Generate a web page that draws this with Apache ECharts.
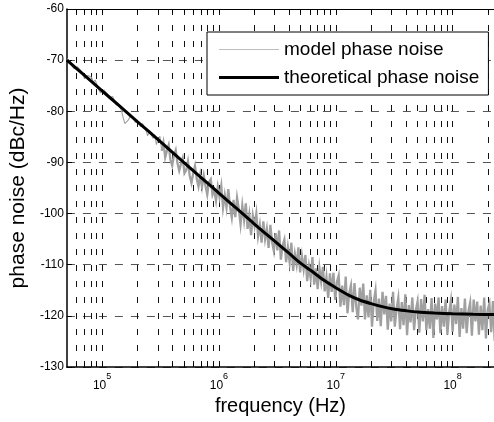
<!DOCTYPE html>
<html><head><meta charset="utf-8">
<script src="https://cdn.jsdelivr.net/npm/echarts@6/dist/echarts.min.js"></script>
<style>html,body{margin:0;padding:0;background:#fff}#c{width:494px;height:422px}</style>
</head><body><div id="c"></div>
<script>
// ---- data ----
const xMinHz = 5e4;
const xMaxHz = 2.26e8;
const xTickFreqs = [6e4,7e4,8e4,9e4,
  1e5,2e5,3e5,4e5,5e5,6e5,7e5,8e5,9e5,
  1e6,2e6,3e6,4e6,5e6,6e6,7e6,8e6,9e6,
  1e7,2e7,3e7,4e7,5e7,6e7,7e7,8e7,9e7,
  1e8,2e8];
const xLabelFreqs = [1e5,1e6,1e7,1e8];
const yMin = -130, yMax = -60, yStep = 10;

const theoFreq = [5e4,7e4,1e5,1.4e5,2e5,3e5,5e5,7e5,1e6,1.4e6,2e6,3e6,4e6,5e6,6e6,8e6,
  1e7,1.3e7,1.6e7,2e7,2.5e7,3.2e7,4e7,5e7,7e7,1e8,1.5e8,2.5e8];
const theoDb = [-70.0,-72.9,-76.0,-78.9,-82.0,-85.5,-90.0,-92.9,-96.0,-98.9,-102.0,-105.4,
  -107.8,-109.7,-111.0,-113.1,-114.5,-116.0,-116.9,-117.6,-118.2,-118.7,-119.0,-119.25,
  -119.45,-119.6,-119.7,-119.75];

// model (simulated) phase noise, sampled every 0.015 decade from 10^4.7 Hz
const modelStartExp = 4.7, modelStepExp = 0.015;
const modelDb = [
 -69.7,-69.7,-70.4,-71.2,-71.7,-71.5,-71.3,-71.3,-72.1,-72.9,
 -73.6,-73.5,-73.0,-72.7,-73.4,-74.3,-73.9,-74.7,-75.7,-76.4,
 -76.1,-75.8,-75.8,-76.6,-77.4,-77.1,-77.1,-77.9,-78.8,-78.4,
 -78.4,-79.8,-81.2,-82.4,-82.5,-81.7,-81.0,-80.7,-81.3,-82.2,
 -81.7,-81.5,-83.0,-82.4,-82.1,-83.7,-84.8,-83.8,-83.5,-85.3,
 -84.6,-86.5,-85.4,-84.9,-87.7,-86.1,-89.0,-87.7,-86.6,-89.5,
 -90.6,-88.6,-87.6,-90.1,-91.6,-90.3,-89.2,-92.1,-91.5,-89.8,
 -92.6,-94.0,-92.1,-90.7,-93.2,-94.7,-92.5,-94.8,-92.6,-94.6,
 -96.3,-93.8,-93.3,-96.3,-95.4,-97.5,-94.8,-96.8,-94.6,-98.9,
 -96.4,-98.8,-95.2,-98.7,-100.8,-97.3,-100.7,-96.9,-99.1,-102.1,
 -98.4,-101.3,-98.0,-103.0,-100.3,-104.2,-100.4,-102.5,-100.0,-104.4,
 -102.2,-105.7,-101.5,-105.0,-103.0,-106.7,-102.2,-105.6,-107.3,-103.8,
 -107.2,-103.3,-109.0,-106.3,-105.1,-109.5,-106.6,-109.5,-105.7,-111.2,
 -107.9,-110.0,-106.6,-111.5,-108.3,-110.9,-108.1,-113.2,-110.3,-112.7,
 -108.5,-113.9,-110.7,-114.8,-110.6,-113.3,-110.4,-115.2,-112.4,-116.5,
 -111.7,-115.3,-111.6,-116.9,-113.3,-112.1,-118.2,-114.1,-117.9,-112.3,
 -119.5,-115.5,-114.0,-119.3,-113.6,-118.2,-120.7,-114.5,-118.0,-113.7,
 -120.7,-116.0,-120.3,-114.9,-122.1,-117.2,-115.0,-121.0,-116.6,-122.0,
 -115.3,-119.7,-116.1,-122.7,-117.6,-121.1,-115.3,-122.1,-118.7,-116.5,
 -122.6,-117.3,-121.8,-115.8,-123.8,-117.9,-121.3,-116.4,-122.8,-118.9,
 -117.2,-123.3,-116.7,-121.1,-115.9,-122.8,-118.7,-122.5,-116.5,-124.3,
 -117.6,-120.7,-116.4,-123.4,-118.1,-122.1,-116.8,-123.7,-119.3,-117.0,
 -123.1,-117.8,-121.6,-116.3,-124.1,-118.5,-122.5,-116.6,-123.4,-119.1,
 -117.4,-123.9,-116.8,-121.1,-117.2,-123.7,-118.0,-122.8,-116.4,-124.4,
 -118.8,-117.6,-123.2,-117.1,-124.9
];
// index where the noise turns into a dense band (drawn with a wider stroke)
const modelBandStart = 54;

// ---- chart ----
const FONT = "'Liberation Sans', Arial, Helvetica, sans-serif";
const lg = Math.log10;
const modelData = modelDb.map((v, i) => [lg(Math.pow(10, modelStartExp + i * modelStepExp)), v]);
const theoData = theoFreq.map((f, i) => [lg(f), theoDb[i]]);
const tickExp = xTickFreqs.map(lg);
const labelExp = xLabelFreqs.map(lg);
const MODEL = 'model phase noise', THEO = 'theoretical phase noise';

const chart = echarts.init(document.getElementById('c'), null, {renderer: 'canvas'});
chart.setOption({
  animation: false,
  backgroundColor: '#fff',
  grid: {left: 64, top: 9, right: 0, bottom: 55},
  legend: {
    orient: 'vertical', left: 207, top: 32,
    padding: [8, 9, 8, 12], itemGap: 9, itemWidth: 60, itemHeight: 14,
    backgroundColor: '#fff', borderColor: '#000', borderWidth: 1, borderRadius: 0,
    symbolKeepAspect: true,
    textStyle: {fontSize: 19, color: '#000', fontFamily: FONT, lineHeight: 19},
    data: [
      {name: MODEL, icon: 'path://M0,0H60V1H0Z', itemStyle: {color: '#bdbdbd'}},
      {name: THEO, icon: 'path://M0,0H60V3H0Z', itemStyle: {color: '#000'}}
    ]
  },
  xAxis: [{
    type: 'value', min: lg(xMinHz), max: lg(xMaxHz), position: 'bottom',
    axisLine: {show: true, onZero: false, lineStyle: {color: '#000', width: 1.5}},
    axisTick: {show: true, inside: true, length: 4, customValues: tickExp, lineStyle: {color: '#000'}},
    axisLabel: {
      customValues: labelExp, margin: 5,
      formatter: v => '{a|10}{b|' + Math.round(v) + '}',
      rich: {
        a: {fontSize: 12, fontFamily: FONT, color: '#000', verticalAlign: 'bottom', lineHeight: 20},
        b: {fontSize: 9, fontFamily: FONT, color: '#000', verticalAlign: 'top', lineHeight: 20}
      }
    },
    splitLine: {show: true, lineStyle: {type: [6, 10], color: '#111', width: 1}},
    name: 'frequency (Hz)', nameLocation: 'middle', nameGap: 24,
    nameTextStyle: {fontSize: 20, color: '#000', fontFamily: FONT, verticalAlign: 'top'}
  }, {
    type: 'value', min: lg(xMinHz), max: lg(xMaxHz), position: 'top',
    axisLine: {show: true, onZero: false, lineStyle: {color: '#000', width: 1}},
    axisTick: {show: true, inside: true, length: 4, customValues: tickExp, lineStyle: {color: '#000'}},
    axisLabel: {show: false}, splitLine: {show: false}
  }],
  yAxis: [{
    type: 'value', min: yMin, max: yMax, interval: yStep,
    axisLine: {show: true, lineStyle: {color: '#000', width: 1.5}},
    axisTick: {show: true, inside: true, length: 5, lineStyle: {color: '#000'}},
    axisLabel: {fontSize: 12, color: '#000', fontFamily: FONT, margin: 3},
    splitLine: {show: true, lineStyle: {type: [8, 8], color: '#555', width: 1}},
    name: 'phase noise (dBc/Hz)', nameLocation: 'middle', nameGap: 32,
    nameTextStyle: {fontSize: 21, color: '#000', fontFamily: FONT}
  }],
  series: [{
    name: MODEL, type: 'line', data: modelData.slice(0, modelBandStart + 1),
    showSymbol: false, symbol: 'none',
    lineStyle: {color: '#a0a0a0', width: 1.1}, itemStyle: {color: '#bdbdbd'}, z: 2
  }, {
    name: MODEL, type: 'line', data: modelData.slice(modelBandStart),
    showSymbol: false, symbol: 'none',
    lineStyle: {color: '#a0a0a0', width: 2.3, join: 'miter'}, itemStyle: {color: '#bdbdbd'}, z: 2
  }, {
    name: THEO, type: 'line', data: theoData,
    showSymbol: false, symbol: 'none', smooth: 0.3,
    lineStyle: {color: '#000', width: 3}, itemStyle: {color: '#000'}, z: 3
  }]
});
</script></body></html>
